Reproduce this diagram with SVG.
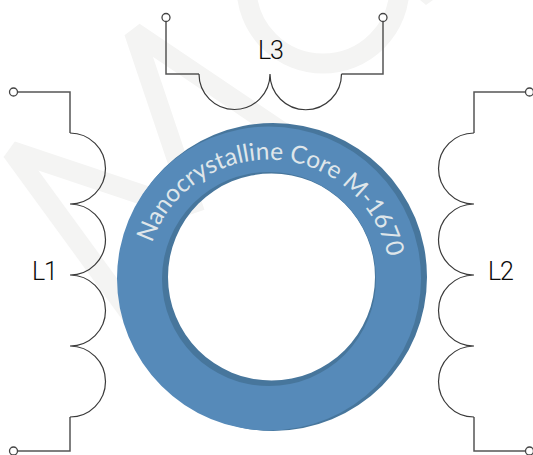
<svg xmlns="http://www.w3.org/2000/svg" width="533" height="455" viewBox="0 0 533 455">
<style>
.wm{fill:none;stroke:#f4f4f3;stroke-width:20;stroke-linejoin:bevel}
.w{fill:none;stroke:#555;stroke-width:1.5}
.c{fill:none;stroke:#3a3a3a;stroke-width:1.2}
.t{fill:#fff;stroke:#444;stroke-width:1.3}
.lb{font-family:"Roboto",sans-serif;font-weight:300;font-size:25px;letter-spacing:-1.2px;fill:#0c0c0c}
</style>
<defs><path id="arc" d="M 152 243 A 122.400 122.400 0 0 1 390 292"/></defs>
<rect width="533" height="455" fill="#fff"/>
<g id="watermark">
<path class="wm" d="M170 204L11.700 151L141.500 329"/>
<path class="wm" d="M195 213L134 32L300 144"/>
<circle class="wm" cx="323" cy="-13" r="76.500" stroke-width="18"/>
<path d="M420 0L426 5L433 0z" fill="#f4f4f3"/>
</g>
<g id="core">
<path fill="#47769c" fill-rule="evenodd" d="M119 277a154 154 0 1 0 308 0a154 154 0 1 0 -308 0zM168 277a103.500 103.500 0 1 0 207 0a103.500 103.500 0 1 0 -207 0z"/>
<path fill="#568ab9" fill-rule="evenodd" d="M117 278.500a152 152 0 1 0 304 0a152 152 0 1 0 -304 0zM162 279a107 107 0 1 0 214 0a107 107 0 1 0 -214 0z"/>
<text font-family="Lato,sans-serif" font-size="24.500" font-weight="400" fill="#dfe6ea"><textPath href="#arc">Nanocrystalline Core M-1670</textPath></text>
</g>
<g id="connectors">
<path class="w" d="M17.500 92H70V133M70 417V451H17.500"/>
<path class="c" d="M70 133A35.500 35.500 0 0 1 70 204A35.500 35.500 0 0 1 70 275A35.500 35.500 0 0 1 70 346A35.500 35.500 0 0 1 70 417"/>
<path class="w" d="M525.500 92H474V133M474 417V451H525.500"/>
<path class="c" d="M474 133A35.500 35.500 0 0 0 474 204A35.500 35.500 0 0 0 474 275A35.500 35.500 0 0 0 474 346A35.500 35.500 0 0 0 474 417"/>
<path class="w" d="M166 21.500V74H199M341.500 74H383V21.500"/>
<path class="c" d="M199 74A35.500 35.500 0 0 0 270 74A35.750 35.750 0 0 0 341.500 74"/>
</g>
<g id="L1"><circle class="t" cx="13.500" cy="92" r="4"/><circle class="t" cx="13.500" cy="451" r="4"/><text class="lb" x="32" y="280" letter-spacing="-3">L1</text></g>
<g id="L2"><circle class="t" cx="529.500" cy="92" r="4"/><circle class="t" cx="529.500" cy="451" r="4"/><text class="lb" x="488" y="280">L2</text></g>
<g id="L3"><circle class="t" cx="166" cy="17.500" r="4"/><circle class="t" cx="383" cy="17.500" r="4"/><text class="lb" x="258" y="59">L3</text></g>
</svg>
